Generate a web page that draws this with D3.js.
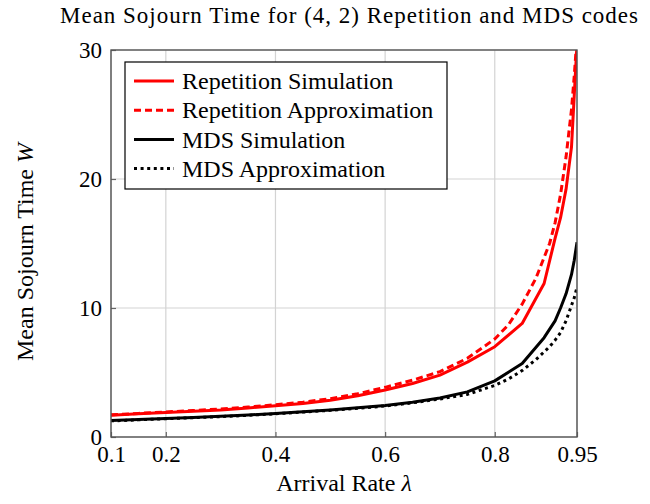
<!DOCTYPE html>
<html><head><meta charset="utf-8">
<script src="https://cdn.jsdelivr.net/npm/d3@7"></script>
<style>body{margin:0;background:#fff}svg{display:block}text{font-family:"Liberation Serif","DejaVu Serif",serif;fill:#000}</style>
</head><body><svg id="c" width="650" height="504"></svg>
<script>
const simX = [0.1,0.15,0.2,0.25,0.3,0.35,0.4,0.45,0.5,0.55,0.6,0.65,0.7,0.75,0.8,0.85,0.89,0.91,0.92,0.93,0.94,0.945,0.95];
const repSim = [1.68,1.8,1.9,2.0,2.1,2.25,2.42,2.6,2.85,3.2,3.65,4.15,4.8,5.8,7.0,8.8,11.9,15.4,17.0,19.2,22.5,26.5,30.5];
const mdsSim = [1.27,1.35,1.44,1.52,1.6,1.7,1.82,1.95,2.1,2.27,2.45,2.7,3.02,3.5,4.35,5.7,7.7,9.0,10.0,11.1,12.6,13.7,15.1];
const apxX = [0.1,0.15,0.2,0.25,0.3,0.35,0.4,0.45,0.5,0.55,0.6,0.65,0.7,0.75,0.8,0.825,0.85,0.875,0.9,0.91,0.92,0.93,0.94,0.945,0.95];
const repApx = [1.72,1.83,1.94,2.05,2.17,2.32,2.5,2.7,2.97,3.35,3.85,4.4,5.07,6.1,7.6,8.7,10.3,12.3,15.0,16.6,18.8,21.7,25.4,28.0,31.0];
const mdsApx = [1.25,1.33,1.42,1.5,1.58,1.68,1.8,1.93,2.07,2.23,2.4,2.65,2.95,3.3,4.0,4.5,5.15,6.0,7.0,7.5,8.1,9.0,10.2,10.8,11.6];
const xTicks = [0.1,0.2,0.4,0.6,0.8,0.95];
const yTicks = [0,10,20,30];
const seriesNames = ["Repetition Simulation","Repetition Approximation","MDS Simulation","MDS Approximation"];
const seriesColors = ["#ff0000","#ff0000","#000000","#000000"];
const seriesDash = [null,"7,4",null,"3,3.6"];

const svg = d3.select("#c");
const L=111,R=577,T=50,B=437;
const x = d3.scaleLinear().domain([0.1,0.95]).range([L,R]);
const y = d3.scaleLinear().domain([0,30]).range([B,T]);

// grid
const g = svg.append("g");
g.selectAll(".gx").data(xTicks).join("line").attr("x1",d=>x(d)).attr("x2",d=>x(d)).attr("y1",T).attr("y2",B).attr("stroke","#d3d3d3").attr("stroke-width",1.2);
g.selectAll(".gy").data(yTicks).join("line").attr("y1",d=>y(d)).attr("y2",d=>y(d)).attr("x1",L).attr("x2",R).attr("stroke","#d3d3d3").attr("stroke-width",1.2);

svg.append("clipPath").attr("id","cp").append("rect").attr("x",L).attr("y",T).attr("width",R-L).attr("height",B-T);

const data = [[simX,repSim],[apxX,repApx],[simX,mdsSim],[apxX,mdsApx]];
const line = d3.line().x(d=>x(d[0])).y(d=>y(d[1]));
const lg = svg.append("g").attr("clip-path","url(#cp)");
data.forEach((s,i)=>{
  const pts = s[0].map((v,j)=>[v,s[1][j]]);
  lg.append("path").attr("d",line(pts)).attr("fill","none").attr("stroke",seriesColors[i]).attr("stroke-width",3)
    .attr("stroke-dasharray",seriesDash[i]).attr("stroke-linejoin","round");
});

const ax = d3.axisBottom(x).tickValues(xTicks).tickSize(-5).tickPadding(9).tickFormat(d=>String(d));
const ay = d3.axisLeft(y).tickValues(yTicks).tickSize(-5).tickPadding(9);
const gx = svg.append("g").attr("transform",`translate(0,${B})`).call(ax);
const gy = svg.append("g").attr("transform",`translate(${L},0)`).call(ay);
[gx,gy].forEach(a=>{a.select(".domain").remove();a.selectAll("line").attr("stroke","#666").attr("stroke-width",1.2);
  a.selectAll("text").style("font-family",'"Liberation Serif",serif').style("font-size","23px").attr("fill","#000");});
gx.selectAll("text").attr("y",null).attr("dy",null).attr("y",25);
gy.selectAll("text").attr("dy","0.34em");
svg.append("rect").attr("x",L).attr("y",T).attr("width",R-L).attr("height",B-T).attr("fill","none").attr("stroke","#555").attr("stroke-width",1.4);

// legend
const leg = svg.append("g");
leg.append("rect").attr("x",125).attr("y",62).attr("width",322).attr("height",127).attr("fill","#fff").attr("stroke","#000").attr("stroke-width",1.2);
seriesNames.forEach((n,i)=>{
  const yy = 81+i*29.2;
  leg.append("line").attr("x1",134).attr("x2",174).attr("y1",yy).attr("y2",yy).attr("stroke",seriesColors[i]).attr("stroke-width",3).attr("stroke-dasharray",seriesDash[i]);
  leg.append("text").attr("x",182).attr("y",yy).attr("dy","0.34em").style("font-size","24px").text(n);
});

// title
const t = svg.append("text").attr("x",60).attr("y",23).style("font-size","23px").attr("textLength",578).attr("lengthAdjust","spacing");
t.append("tspan").text("Mean Sojourn Time for ");
t.append("tspan").text("(4, 2)");
t.append("tspan").text(" Repetition and MDS codes");

// axis labels
const xl = svg.append("text").attr("x",344).attr("y",491).attr("text-anchor","middle").style("font-size","24px");
xl.append("tspan").text("Arrival Rate ");
xl.append("tspan").style("font-style","italic").text("λ");
const yl = svg.append("text").attr("transform","translate(33,252) rotate(-90)").attr("text-anchor","middle").style("font-size","24px");
yl.append("tspan").text("Mean Sojourn Time ");
yl.append("tspan").style("font-style","italic").text("W");
</script></body></html>
